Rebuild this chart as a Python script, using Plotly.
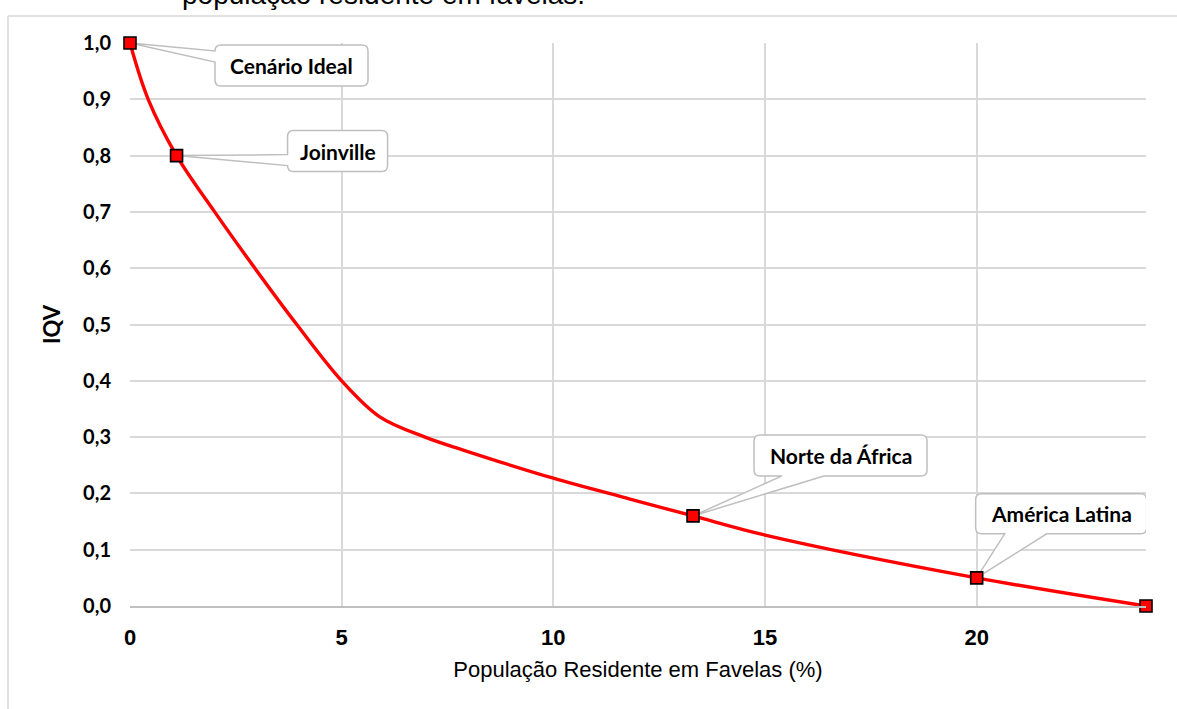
import plotly.graph_objects as go

# ---------------- data ----------------
curve_x = [0, 0.43, 1.1, 2.0, 2.95, 3.94, 5.0, 5.9, 6.97, 7.87, 10.0, 11.81, 13.3, 15.0, 20.0, 24.0]
curve_y = [1.0, 0.90, 0.80, 0.70, 0.60, 0.50, 0.40, 0.336, 0.30, 0.277, 0.227, 0.19, 0.16, 0.126, 0.05, 0.0]

point_names = ["Cenário Ideal", "Joinville", "Norte da África", "América Latina", ""]
point_x = [0, 1.1, 13.3, 20, 24]
point_y = [1.0, 0.8, 0.16, 0.05, 0.0]

x_ticks = [0, 5, 10, 15, 20]
y_ticks = [0.0, 0.1, 0.2, 0.3, 0.4, 0.5, 0.6, 0.7, 0.8, 0.9, 1.0]

title_text = "população residente em favelas."
x_title = "População Residente em Favelas (%)"
y_title = "IQV"

# ---------------- layout geometry (pixels) ----------------
W, H = 1177, 709
ML, MR, MT, MB = 130, 31, 43, 103
PW, PH = W - ML - MR, H - MT - MB

# callout boxes: offsets in pixels relative to their point (y up)
callouts = [
    dict(L=85, R=238, T=-2, B=-43, side="left", b1=-8, b2=-19),
    dict(L=111, R=211, T=25, B=-16, side="left", b1=1, b2=-10),
    dict(L=61, R=234, T=81, B=40, side="bottom", b1=89, b2=131),
    dict(L=-1, R=170, T=84, B=44, side="bottom", b1=28, b2=70),
]


def callout_path(c, r=6):
    L, R, T, B = c["L"], c["R"], c["T"], c["B"]
    if c["side"] == "left":
        p = (f"M 0,0 L {L},{c['b1']} L {L},{T-r} Q {L},{T} {L+r},{T} "
             f"L {R-r},{T} Q {R},{T} {R},{T-r} L {R},{B+r} Q {R},{B} {R-r},{B} "
             f"L {L+r},{B} Q {L},{B} {L},{B+r} L {L},{c['b2']} Z")
    else:
        p = (f"M 0,0 L {c['b1']},{B} L {L+r},{B} Q {L},{B} {L},{B+r} "
             f"L {L},{T-r} Q {L},{T} {L+r},{T} L {R-r},{T} Q {R},{T} {R},{T-r} "
             f"L {R},{B+r} Q {R},{B} {R-r},{B} L {c['b2']},{B} Z")
    return p


fig = go.Figure()

fig.add_trace(go.Scatter(
    x=curve_x, y=curve_y, mode="lines",
    line=dict(color="#ff0000", width=3.4, shape="spline", smoothing=1.0),
    cliponaxis=False, hoverinfo="skip", showlegend=False,
))
fig.add_trace(go.Scatter(
    x=point_x, y=point_y, mode="markers", text=point_names,
    marker=dict(symbol="square", size=12, color="#ff0000",
                line=dict(color="#000000", width=1.6)),
    cliponaxis=False, showlegend=False,
))

shapes = []
annotations = []
for i, c in enumerate(callouts):
    shapes.append(dict(
        type="path", xref="x", yref="y",
        xsizemode="pixel", ysizemode="pixel",
        xanchor=point_x[i], yanchor=point_y[i],
        path=callout_path(c), fillcolor="white",
        line=dict(color="#bfbfbf", width=1.5), layer="between",
    ))
    annotations.append(dict(
        x=point_x[i], y=point_y[i], xref="x", yref="y",
        text=point_names[i], showarrow=False,
        xshift=(c["L"] + c["R"]) / 2, yshift=(c["T"] + c["B"]) / 2,
        font=dict(family="Lato", size=21, color="#000000", weight="bold"),
    ))

# outer chart border (left and top edges visible)
bx = (8 - ML) / PW
by = (MT + PH - 16) / PH
shapes.append(dict(type="line", xref="paper", yref="paper", x0=bx, x1=bx, y0=by, y1=-1,
                   line=dict(color="#d9d9d9", width=1.5), layer="above"))
shapes.append(dict(type="line", xref="paper", yref="paper", x0=bx, x1=2, y0=by, y1=by,
                   line=dict(color="#d9d9d9", width=1.5), layer="above"))

# partially cut caption above the chart
annotations.append(dict(
    x=(180 - ML) / PW, y=(MT + PH - 12) / PH, xref="paper", yref="paper",
    xanchor="left", yanchor="bottom", text=title_text, showarrow=False,
    font=dict(family="Liberation Sans", size=28, color="#000000"),
))

fig.update_layout(
    width=W, height=H,
    margin=dict(l=ML, r=MR, t=MT, b=MB, pad=0),
    paper_bgcolor="white", plot_bgcolor="white",
    separators=",.",
    shapes=shapes, annotations=annotations,
    xaxis=dict(
        range=[0, 24], tickvals=x_ticks, showgrid=True, gridcolor="#d9d9d9", gridwidth=1.5,
        zeroline=False, showline=True, linecolor="#bfbfbf", linewidth=1.5,
        ticks="", ticklabelstandoff=11,
        tickfont=dict(family="Liberation Sans", size=22, color="#000000", weight="bold"),
        title=dict(text=x_title, standoff=12,
                   font=dict(family="Liberation Sans", size=22, color="#000000")),
    ),
    yaxis=dict(
        range=[0, 1], tickvals=y_ticks, tickformat=".1f", showgrid=True,
        gridcolor="#d9d9d9", gridwidth=1.5, zeroline=False, showline=False,
        ticks="", ticklabelstandoff=18,
        tickfont=dict(family="Lato", size=20, color="#000000", weight="bold"),
        title=dict(text=y_title, standoff=16,
                   font=dict(family="Lato", size=22, color="#000000", weight="bold")),
    ),
)

fig.write_html("out.html", config={"displayModeBar": False},
               post_script="document.body.style.margin='0';")
